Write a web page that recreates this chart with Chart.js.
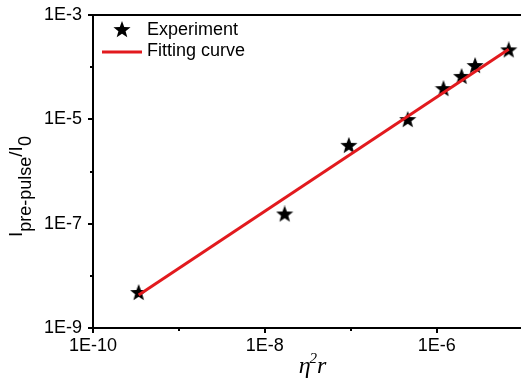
<!DOCTYPE html>
<html>
<head>
<meta charset="utf-8">
<script src="https://cdn.jsdelivr.net/npm/chart.js@4"></script>
<style>
  html, body { margin: 0; padding: 0; background: #ffffff; overflow: hidden; }
  #c { display: block; }
</style>
</head>
<body>
<canvas id="c" width="521" height="383"></canvas>
<script>
// ---- data ----
const expX = [3.4e-10, 1.7e-8, 9.5e-8, 4.6e-7, 1.2e-6, 1.95e-6, 2.8e-6, 6.9e-6];
const expY = [4.7e-9, 1.5e-7, 3.1e-6, 9.7e-6, 3.8e-5, 6.5e-5, 1.05e-4, 2.1e-4];
const fitX = [3.4e-10, 6.9e-6];
const fitY = [4.3e-9, 2.2e-4];
const seriesNames = ['Experiment', 'Fitting curve'];

const xTickValues = [1e-10, 1e-9, 1e-8, 1e-7, 1e-6];
const xTickLabels = ['1E-10', '', '1E-8', '', '1E-6'];
const yTickValues = [1e-9, 1e-8, 1e-7, 1e-6, 1e-5, 1e-4, 1e-3];
const yTickLabels = ['1E-9', '', '1E-7', '', '1E-5', '', '1E-3'];
const xRange = [1e-10, 9.33e-6];
const yRange = [1e-9, 1e-3];

const FONT = "'Liberation Sans', Arial, sans-serif";
const RED = 'rgb(226,26,30)';

// filled five-pointed star marker
function makeStar(size) {
  const cv = document.createElement('canvas');
  cv.width = size; cv.height = size;
  const g = cv.getContext('2d');
  const R = size / 2, r = R * 0.42, cx = size / 2, cy = size / 2;
  g.beginPath();
  for (let i = 0; i < 10; i++) {
    const rad = i % 2 === 0 ? R : r;
    const a = -Math.PI / 2 + i * Math.PI / 5;
    const px = cx + rad * Math.cos(a), py = cy + rad * Math.sin(a);
    if (i === 0) g.moveTo(px, py); else g.lineTo(px, py);
  }
  g.closePath();
  g.fillStyle = '#000';
  g.fill();
  return cv;
}
const star = makeStar(18);

const decorPlugin = {
  id: 'decor',
  afterDraw(chart) {
    const ctx = chart.ctx;
    const a = chart.chartArea;
    const xs = chart.scales.x, ys = chart.scales.y;
    ctx.save();
    ctx.strokeStyle = '#000';
    ctx.lineWidth = 2;
    // top frame line
    ctx.beginPath();
    ctx.moveTo(a.left - 1, a.top);
    ctx.lineTo(a.right + 2, a.top);
    ctx.stroke();
    // tick marks (outward)
    xTickValues.forEach((v, i) => {
      const px = Math.round(xs.getPixelForValue(v));
      const len = xTickLabels[i] ? 5 : 3;
      ctx.beginPath();
      ctx.moveTo(px, a.bottom);
      ctx.lineTo(px, a.bottom + len);
      ctx.stroke();
    });
    yTickValues.forEach((v, i) => {
      const py = Math.round(ys.getPixelForValue(v));
      const len = yTickLabels[i] ? 5 : 3;
      ctx.beginPath();
      ctx.moveTo(a.left, py);
      ctx.lineTo(a.left - len, py);
      ctx.stroke();
    });

    // legend
    ctx.fillStyle = '#000';
    ctx.font = '18px ' + FONT;
    ctx.textBaseline = 'middle';
    ctx.textAlign = 'left';
    ctx.drawImage(star, 122 - 9, 30 - 9);
    ctx.fillText(seriesNames[0], 147, 30);
    ctx.strokeStyle = RED;
    ctx.lineWidth = 3;
    ctx.beginPath();
    ctx.moveTo(102, 52);
    ctx.lineTo(142, 52);
    ctx.stroke();
    ctx.fillText(seriesNames[1], 147, 51);

    // x axis title: eta^2 r (italic serif)
    ctx.fillStyle = '#000';
    ctx.textBaseline = 'alphabetic';
    const big = 'italic 24px "Liberation Serif", "Times New Roman", serif';
    const sup = 'italic 15px "Liberation Serif", "Times New Roman", serif';
    ctx.font = big; const w1 = ctx.measureText('\u03B7').width;
    ctx.font = sup; const w2 = ctx.measureText('2').width;
    ctx.font = big; const w3 = ctx.measureText('r').width;
    let tx = 313 - (w1 + w2 + w3) / 2;
    const ty = 373;
    ctx.font = big; ctx.fillText('\u03B7', tx, ty); tx += w1 - 1;
    ctx.font = sup; ctx.fillText('2', tx, ty - 10); tx += w2;
    ctx.font = big; ctx.fillText('r', tx, ty);

    // y axis title: I_{pre-pulse}/I_0 (rotated)
    ctx.translate(22, 237);
    ctx.rotate(-Math.PI / 2);
    const main = '19px ' + FONT, sub = '18px ' + FONT;
    let ox = 0;
    const parts = [['I', main, 0], ['pre-pulse', sub, 9], ['/I', main, 0], ['0', sub, 9]];
    parts.forEach(([t, f, dy]) => {
      ctx.font = f;
      ctx.fillText(t, ox, dy);
      ox += ctx.measureText(t).width;
    });
    ctx.restore();
  }
};

new Chart(document.getElementById('c'), {
  type: 'scatter',
  data: {
    datasets: [
      {
        label: seriesNames[1],
        type: 'line',
        data: fitX.map((x, i) => ({ x, y: fitY[i] })),
        borderColor: RED,
        borderWidth: 3,
        pointRadius: 0,
        fill: false,
        order: 0
      },
      {
        label: seriesNames[0],
        data: expX.map((x, i) => ({ x, y: expY[i] })),
        pointStyle: star,
        pointRadius: 9,
        order: 1
      }
    ]
  },
  options: {
    responsive: false,
    animation: false,
    devicePixelRatio: 1,
    layout: { autoPadding: false, padding: { top: 15, right: 1, left: 0, bottom: 0 } },
    plugins: { legend: { display: false }, tooltip: { enabled: false } },
    scales: {
      x: {
        type: 'logarithmic',
        position: 'bottom',
        min: xRange[0], max: xRange[1],
        afterBuildTicks: s => { s.ticks = xTickValues.map(v => ({ value: v })); },
        afterFit: s => { s.height = 55; s.paddingLeft = 0; s.paddingRight = 0; },
        grid: { display: true, drawOnChartArea: false, drawTicks: false, color: 'rgba(0,0,0,0)' },
        border: { display: true, color: '#000', width: 2 },
        ticks: {
          autoSkip: false, maxRotation: 0, padding: 7,
          color: '#000', font: { family: FONT, size: 18 },
          callback: (v, i) => xTickLabels[i]
        }
      },
      y: {
        type: 'logarithmic',
        position: 'left',
        min: yRange[0], max: yRange[1],
        afterBuildTicks: s => { s.ticks = yTickValues.map(v => ({ value: v })); },
        afterFit: s => { s.width = 93; s.paddingTop = 0; s.paddingBottom = 0; },
        grid: { display: true, drawOnChartArea: false, drawTicks: false, color: 'rgba(0,0,0,0)' },
        border: { display: true, color: '#000', width: 2 },
        ticks: {
          autoSkip: false, padding: 11,
          color: '#000', font: { family: FONT, size: 18 },
          callback: (v, i) => yTickLabels[i]
        }
      }
    }
  },
  plugins: [decorPlugin]
});
</script>
</body>
</html>
